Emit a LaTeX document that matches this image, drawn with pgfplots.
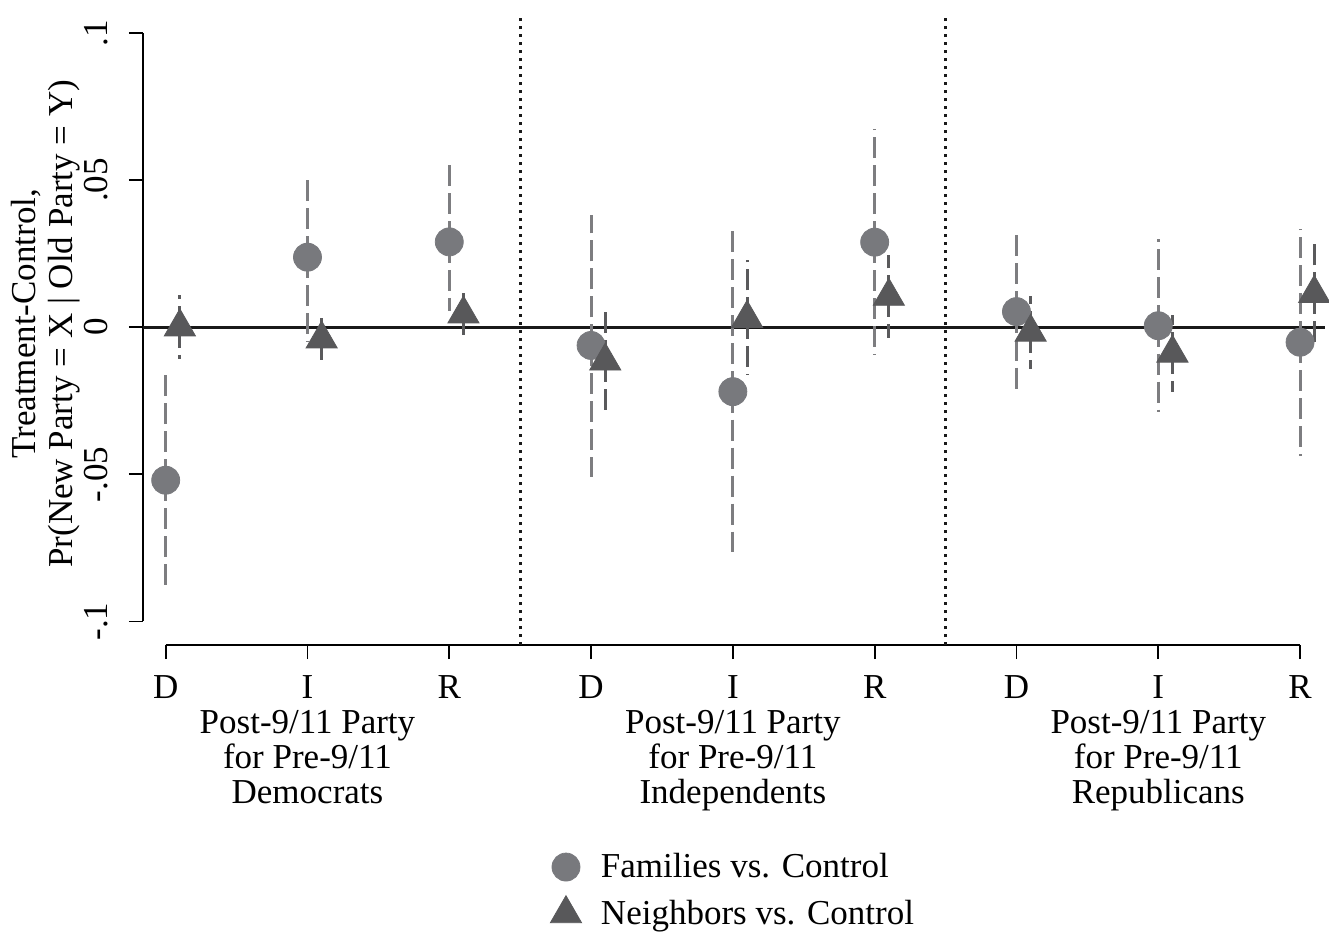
\documentclass[border=0pt]{standalone}
\usepackage{fontspec}
\setmainfont{Liberation Serif}
\usepackage{pgfplots}
\pgfplotsset{compat=1.18}
\usepackage{pgfplotstable}
\definecolor{famc}{RGB}{120,121,125}
\definecolor{nbrc}{RGB}{88,88,90}
\definecolor{famci}{RGB}{125,125,128}
\definecolor{nbrci}{RGB}{90,90,92}
\newcommand{\chartfont}{\fontsize{17.5}{17.5}\selectfont}

% x y lo hi
\pgfplotstableread{
x y lo hi
0 -0.0520 -0.0891 -0.0150
1 0.0238 -0.0048 0.0521
2 0.0290 0.0054 0.0552
3 -0.0062 -0.0510 0.0382
4 -0.0219 -0.0763 0.0328
5 0.0289 -0.0096 0.0673
6 0.0053 -0.0221 0.0323
7 0.0005 -0.0289 0.0299
8 -0.0051 -0.0436 0.0333
}\families
\pgfplotstableread{
x y lo hi
0.1 0.0001 -0.0108 0.0110
1.1 -0.0040 -0.0127 0.0046
2.1 0.0045 -0.0033 0.0118
3.1 -0.0115 -0.0301 0.0063
4.1 0.0030 -0.0164 0.0229
5.1 0.0105 -0.0037 0.0244
6.1 -0.0017 -0.0142 0.0105
7.1 -0.0088 -0.0221 0.0042
8.1 0.0115 -0.0059 0.0283
}\neighbors

\begin{document}
\begin{tikzpicture}
\begin{axis}[
  scale only axis, width=591pt, height=315pt,
  xmin=-0.160, xmax=8.176, ymin=-0.108, ymax=0.1061,
  clip=false,
  axis x line*=bottom, axis y line*=left,
  axis line style={draw=none},
  xtick={0,...,8},
  xticklabels={D,{I\\Post-9/11 Party\\for Pre-9/11\\Democrats},R,D,{I\\Post-9/11 Party\\for Pre-9/11\\Independents},R,D,{I\\Post-9/11 Party\\for Pre-9/11\\Republicans},R},
  xticklabel style={align=center, anchor=north, font=\chartfont, inner sep=0pt, yshift=-8pt},
  ytick={-0.1,-0.05,0,0.05,0.1},
  yticklabels={-.1,-.05,0,.05,.1},
  yticklabel style={xshift=-7pt, rotate=90, anchor=south, font=\chartfont},
  tick align=outside, major tick length=7pt,
  tick style={black, line width=0.85pt},
  ylabel={Treatment-Control,\\Pr(New Party = X | Old Party = Y)},
  ylabel style={at={(axis description cs:-0.0525,0.51)}, anchor=south, inner sep=0pt, align=center, font=\fontsize{17.5}{18.5}\selectfont},
  legend style={at={(axis description cs:0.5,0)}, anchor=north, yshift=-100pt, draw=none, fill=none, font=\chartfont, row sep=5.5pt, legend cell align=left},
  legend image code/.code={\draw[#1] plot coordinates {(0pt,0pt)}; \path[draw=none, fill=none] (-8pt,0pt) (15.5pt,0pt);},
  error bars/error mark=none,
]
\coordinate (sw) at (rel axis cs:0,0);
\coordinate (ne) at (rel axis cs:1,1);
% axis lines (Stata style)
\draw[black, line width=0.85pt] (axis cs:-0.160,-0.1) -- (axis cs:-0.160,0.1);
\draw[black, line width=0.85pt] (axis cs:0,-0.108) -- (axis cs:8,-0.108);
% reference lines
\draw[black!90, line width=1.6pt] (axis cs:-0.160,0) -- (axis cs:8.176,0);
\draw[black!90, line width=1.5pt, dash pattern=on 1.75pt off 2.25pt] (axis cs:2.5,-0.108) -- (axis cs:2.5,0.1061);
\draw[black!90, line width=1.5pt, dash pattern=on 1.75pt off 2.25pt] (axis cs:5.5,-0.108) -- (axis cs:5.5,0.1061);
% confidence intervals
\addplot[forget plot, only marks, mark=none,
  error bars/.cd, y dir=both, y explicit,
  error bar style={draw=famci, line width=1.5pt, dash pattern=on 10.5pt off 3.5pt}]
  table[x=x, y=y, y error plus expr=\thisrow{hi}-\thisrow{y}, y error minus expr=\thisrow{y}-\thisrow{lo}] {\families};
\addplot[forget plot, only marks, mark=none,
  error bars/.cd, y dir=both, y explicit,
  error bar style={draw=nbrci, line width=1.5pt, dash pattern=on 10.5pt off 3.5pt}]
  table[x=x, y=y, y error plus expr=\thisrow{hi}-\thisrow{y}, y error minus expr=\thisrow{y}-\thisrow{lo}] {\neighbors};
% point estimates
\addplot[only marks, mark=*, mark size=7pt, color=famc, mark options={fill=famc, draw=none}]
  table[x=x, y=y] {\families};
\addlegendentry{Families vs. Control}
\addplot[only marks, mark=triangle*, mark size=9pt, color=nbrc, mark options={fill=nbrc, draw=none}]
  table[x=x, y=y] {\neighbors};
\addlegendentry{Neighbors vs. Control}
\end{axis}
\pgfresetboundingbox
\path[use as bounding box] ([xshift=-71.5pt,yshift=-144pt]sw) rectangle ([xshift=2pt,yshift=7.5pt]ne);
\end{tikzpicture}
\end{document}
